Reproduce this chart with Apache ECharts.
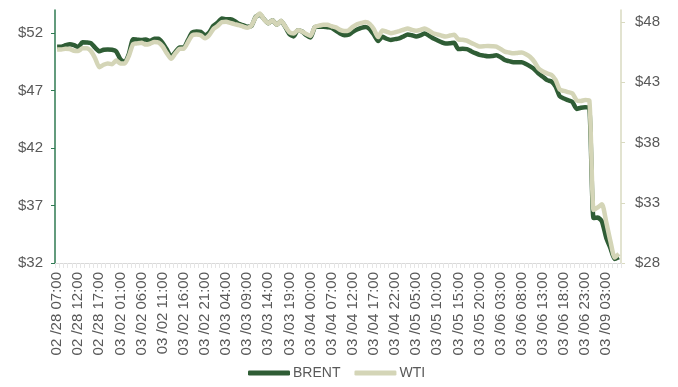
<!DOCTYPE html>
<html>
<head>
<meta charset="utf-8">
<script src="https://cdn.jsdelivr.net/npm/echarts@6/dist/echarts.min.js"></script>
<style>
  html, body { margin: 0; padding: 0; background: #fff; }
  #chart { width: 678px; height: 387px; }
</style>
</head>
<body>
<div id="chart"></div>
<script>
// Labelled time stamps, one every fifth hourly step
const tickLabels = [
  '02 /28 07:00', '02 /28 12:00', '02 /28 17:00', '03 /02 01:00', '03 /02 06:00',
  '03 /02 11:00', '03 /02 16:00', '03 /02 21:00', '03 /03 04:00', '03 /03 09:00',
  '03 /03 14:00', '03 /03 19:00', '03 /04 00:00', '03 /04 07:00', '03 /04 12:00',
  '03 /04 17:00', '03 /04 22:00', '03 /05 05:00', '03 /05 10:00', '03 /05 15:00',
  '03 /05 20:00', '03 /06 03:00', '03 /06 08:00', '03 /06 13:00', '03 /06 18:00',
  '03 /06 23:00', '03 /09 03:00'
];

// Hourly Brent price (USD / bbl)
const brent = [
  50.81, 50.81, 50.94, 51.03, 50.95, 50.78, 51.2, 51.18, 51.12, 50.72,
  50.41, 50.54, 50.56, 50.54, 50.4, 49.7, 49.45, 50.2, 51.45, 51.42,
  51.39, 51.44, 51.3, 51.5, 51.5, 51.13, 50.55, 49.9, 50.35, 50.75,
  50.75, 51.4, 52.05, 52.14, 52.1, 51.8, 52.05, 52.63, 52.9, 53.26,
  53.2, 53.19, 53.05, 52.8, 52.68, 52.55, 52.6, 53.4, 53.6, 53.2,
  52.85, 53.1, 52.72, 53.05, 52.55, 51.9, 51.7, 52.25, 52.13, 51.8,
  51.6, 52.5, 52.55, 52.55, 52.5, 52.45, 52.2, 51.96, 51.8, 51.85,
  52.1, 52.3, 52.45, 52.53, 52.35, 51.85, 51.3, 51.67, 51.5, 51.4,
  51.47, 51.53, 51.7, 51.88, 51.8, 51.7, 51.8, 51.95, 51.78, 51.54,
  51.37, 51.2, 51.08, 51.1, 51.15, 50.6, 50.62, 50.6, 50.42, 50.25,
  50.1, 50.03, 49.97, 50.0, 50.06, 49.9, 49.66, 49.55, 49.45, 49.45,
  49.45, 49.3, 49.1, 48.85, 48.47, 48.2, 47.9, 47.79, 47.35, 46.5,
  46.3, 46.15, 46.0, 45.4, 45.5, 45.54, 45.5, 35.91, 35.95, 35.6,
  34.2, 33.3, 32.35, 32.5
];

// Hourly WTI price (USD / bbl)
const wti = [
  45.73, 45.73, 45.78, 45.76, 45.62, 45.6, 45.82, 45.82, 45.6, 45.0,
  44.25, 44.45, 44.56, 44.5, 44.8, 44.55, 44.55, 45.2, 46.17, 46.23,
  46.28, 46.13, 46.2, 46.34, 46.3, 45.97, 45.4, 44.95, 45.4, 45.78,
  45.8, 46.35, 46.9, 46.96, 46.9, 46.65, 46.9, 47.42, 47.67, 48.0,
  48.02, 47.93, 47.83, 47.74, 47.63, 47.53, 47.7, 48.4, 48.7, 48.22,
  47.91, 48.14, 47.77, 48.1, 47.64, 47.15, 47.05, 47.32, 47.22, 47.0,
  46.85, 47.6, 47.7, 47.78, 47.77, 47.65, 47.56, 47.35, 47.25, 47.3,
  47.6, 47.82, 47.92, 48.0, 47.85, 47.4, 46.75, 47.3, 47.2, 47.08,
  47.15, 47.25, 47.36, 47.47, 47.35, 47.28, 47.35, 47.47, 47.3, 47.07,
  46.97, 46.87, 46.8, 46.88, 46.95, 46.56, 46.53, 46.45, 46.27, 46.12,
  45.97, 45.99, 46.02, 46.0, 45.97, 45.76, 45.55, 45.47, 45.4, 45.44,
  45.47, 45.33, 45.1, 44.7, 44.14, 43.9, 43.74, 43.62, 43.2, 42.4,
  42.28, 42.18, 42.08, 41.5, 41.45, 41.53, 41.5, 32.4, 32.62, 32.88,
  31.4, 29.8, 28.45, 28.75
];

const brentTicks = [32, 37, 42, 47, 52];
const wtiTicks = [28, 33, 38, 43, 48];

// Hourly category stamps: each labelled hour followed by the next four hours
const categories = [];
tickLabels.forEach(label => {
  const day = label.slice(0, 6);
  const hour = parseInt(label.slice(7, 9), 10);
  categories.push(label);
  for (let k = 1; k <= 4; k++) {
    const h = (hour + k) % 24;
    categories.push(day + ' ' + String(h).padStart(2, '0') + ':00');
  }
});
categories.length = brent.length;

const textColor = '#595959';
const font = 'Liberation Sans';

const chart = echarts.init(document.getElementById('chart'), null, { renderer: 'canvas' });
chart.setOption({
  animation: false,
  backgroundColor: '#ffffff',
  grid: { left: 55, right: 57, top: 10, bottom: 124, containLabel: false },
  legend: {
    data: ['BRENT', 'WTI'],
    left: 243,
    bottom: 2,
    itemWidth: 42,
    itemHeight: 5,
    itemGap: 14,
    icon: 'roundRect',
    textStyle: { color: textColor, fontFamily: font, fontSize: 14, padding: [0, 0, 0, -2] }
  },
  xAxis: {
    type: 'category',
    data: categories,
    boundaryGap: true,
    axisLine: { lineStyle: { color: '#d9d9d9', width: 1 } },
    axisTick: { show: true, interval: 0, length: 5, lineStyle: { color: '#e6e6e6' } },
    axisLabel: {
      interval: 4,
      rotate: 90,
      margin: 9,
      color: textColor,
      fontFamily: font,
      fontSize: 15
    },
    splitLine: { show: false }
  },
  yAxis: [
    {
      type: 'value',
      position: 'left',
      min: 32,
      max: 54,
      axisLine: { show: true, lineStyle: { color: '#2f7a52', width: 1.5 } },
      axisTick: { show: true, length: 4, customValues: brentTicks, lineStyle: { color: '#2f7a52' } },
      axisLabel: {
        customValues: brentTicks,
        formatter: v => '$' + v,
        color: textColor,
        fontFamily: font,
        fontSize: 15,
        margin: 12
      },
      splitLine: { show: false }
    },
    {
      type: 'value',
      position: 'right',
      min: 28,
      max: 49,
      axisLine: { show: true, lineStyle: { color: '#d9dac0', width: 1.5 } },
      axisTick: { show: true, length: 4, customValues: wtiTicks, lineStyle: { color: '#d9dac0' } },
      axisLabel: {
        customValues: wtiTicks,
        formatter: v => '$' + v,
        color: textColor,
        fontFamily: font,
        fontSize: 15,
        margin: 14
      },
      splitLine: { show: false }
    }
  ],
  series: [
    {
      name: 'BRENT',
      type: 'line',
      yAxisIndex: 0,
      data: brent,
      smooth: 0.2,
      showSymbol: false,
      symbol: 'none',
      lineStyle: { color: '#2f5d35', width: 4.5 },
      itemStyle: { color: '#2f5d35' }
    },
    {
      name: 'WTI',
      type: 'line',
      yAxisIndex: 1,
      data: wti,
      smooth: 0.2,
      showSymbol: false,
      symbol: 'none',
      lineStyle: { color: '#d4d5b7', width: 4.5 },
      itemStyle: { color: '#d4d5b7' }
    }
  ]
});
</script>
</body>
</html>
